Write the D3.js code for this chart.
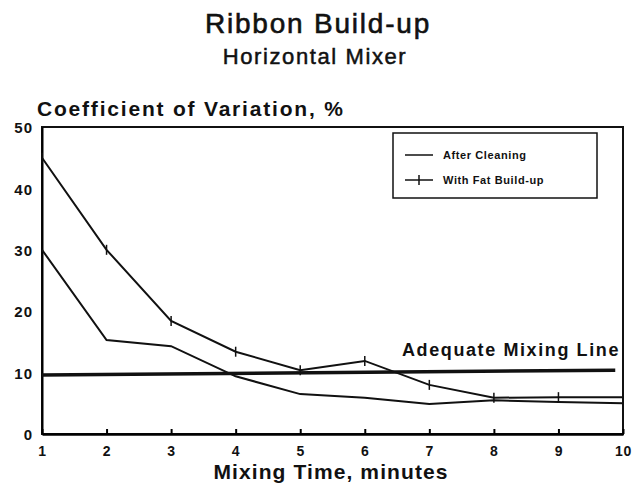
<!DOCTYPE html>
<html>
<head>
<meta charset="utf-8">
<script src="https://cdn.jsdelivr.net/npm/d3@7"></script>
<style>
  body { margin: 0; background: #fff; }
  text { font-family: "Liberation Sans", Arial, sans-serif; fill: #111; }
</style>
</head>
<body>
<svg width="632" height="490"></svg>
<script>
// data
const minutes = [1, 2, 3, 4, 5, 6, 7, 8, 9, 10];
const afterCleaning = [30, 15.3, 14.3, 9.4, 6.5, 5.9, 4.9, 5.5, 5.2, 5.0];
const fatBuildUp = [45, 30, 18.4, 13.4, 10.4, 11.9, 8.0, 5.9, 6.0, 6.0];
const adequateLine = [[1, 9.6], [9.88, 10.4]];
const yTicks = [0, 10, 20, 30, 40, 50];

const svg = d3.select('svg');
const pLeft = 42, pRight = 623, pTop = 127, pBottom = 434;

const scX = d3.scaleLinear().domain([1, 10]).range([pLeft, pRight]);
const scY = d3.scaleLinear().domain([0, 50]).range([pBottom, pTop]);

// frame
svg.append('rect')
  .attr('x', pLeft).attr('y', pTop)
  .attr('width', pRight - pLeft).attr('height', pBottom - pTop)
  .attr('fill', 'none').attr('stroke', '#111').attr('stroke-width', 2);

// x axis: ticks pointing up, bold labels
const xAx = svg.append('g')
  .attr('transform', 'translate(0,' + pBottom + ')')
  .call(d3.axisBottom(scX).tickValues(minutes).tickSizeInner(-5).tickSizeOuter(0).tickPadding(12));
xAx.select('.domain').attr('stroke-width', 2.5);
xAx.selectAll('line').attr('stroke-width', 2);
xAx.selectAll('text').style('font-size', '14px').style('font-weight', 'bold')
  .style('letter-spacing', '0.8px');

// y axis
const yAx = svg.append('g')
  .attr('transform', 'translate(' + pLeft + ',0)')
  .call(d3.axisLeft(scY).tickValues(yTicks).tickSizeInner(0).tickSizeOuter(0).tickPadding(9));
yAx.select('.domain').attr('stroke-width', 2);
yAx.selectAll('text').style('font-size', '15px').style('font-weight', 'bold')
  .style('letter-spacing', '1px').attr('dy', '0.38em');

// adequate mixing line
svg.append('path')
  .attr('d', d3.line().x(d => scX(d[0])).y(d => scY(d[1]))(adequateLine))
  .attr('fill', 'none').attr('stroke', '#111').attr('stroke-width', 3.5);
svg.append('text').attr('x', 620).attr('y', 356).attr('text-anchor', 'end')
  .style('font-size', '18px').style('font-weight', 'bold').style('letter-spacing', '1.6px')
  .text('Adequate Mixing Line');

const lnMkr = d3.line().x((d, i) => scX(minutes[i])).y(d => scY(d));

svg.append('path').attr('d', lnMkr(afterCleaning))
  .attr('fill', 'none').attr('stroke', '#111').attr('stroke-width', 2);
svg.append('path').attr('d', lnMkr(fatBuildUp))
  .attr('fill', 'none').attr('stroke', '#111').attr('stroke-width', 2);

// cross markers on fat build-up
svg.append('g').selectAll('line').data(fatBuildUp).enter()
  .append('line')
  .attr('x1', (d, i) => scX(minutes[i])).attr('x2', (d, i) => scX(minutes[i]))
  .attr('y1', d => scY(d) - 5).attr('y2', d => scY(d) + 5)
  .attr('stroke', '#111').attr('stroke-width', 1.5);

// legend
const lg = svg.append('g');
lg.append('rect').attr('x', 393).attr('y', 133).attr('width', 204).attr('height', 65)
  .attr('fill', '#fff').attr('stroke', '#111').attr('stroke-width', 1.5);
const legendItems = ['After Cleaning', 'With Fat Build-up'];
legendItems.forEach((name, i) => {
  const y = 155 + i * 25;
  lg.append('line').attr('x1', 405).attr('x2', 433).attr('y1', y).attr('y2', y)
    .attr('stroke', '#111').attr('stroke-width', 1.5);
  if (i === 1) {
    lg.append('line').attr('x1', 419).attr('x2', 419).attr('y1', y - 5).attr('y2', y + 5)
      .attr('stroke', '#111').attr('stroke-width', 1.5);
  }
  lg.append('text').attr('x', 443).attr('y', y + 4)
    .style('font-size', '11px').style('font-weight', 'bold').style('letter-spacing', '0.6px')
    .text(name);
});

// titles
svg.append('text').attr('x', 318).attr('y', 33).attr('text-anchor', 'middle')
  .style('font-size', '28px').style('letter-spacing', '1.8px')
  .attr('stroke', '#111').attr('stroke-width', 0.6).text('Ribbon Build-up');
svg.append('text').attr('x', 315).attr('y', 64).attr('text-anchor', 'middle')
  .style('font-size', '22px').style('letter-spacing', '1.6px')
  .attr('stroke', '#111').attr('stroke-width', 0.5).text('Horizontal Mixer');
svg.append('text').attr('x', 37).attr('y', 116)
  .style('font-size', '21px').style('font-weight', 'bold').style('letter-spacing', '1.8px')
  .text('Coefficient of Variation, %');
svg.append('text').attr('x', 331).attr('y', 479).attr('text-anchor', 'middle')
  .style('font-size', '21px').style('font-weight', 'bold').style('letter-spacing', '1.1px')
  .text('Mixing Time, minutes');
</script>
</body>
</html>
